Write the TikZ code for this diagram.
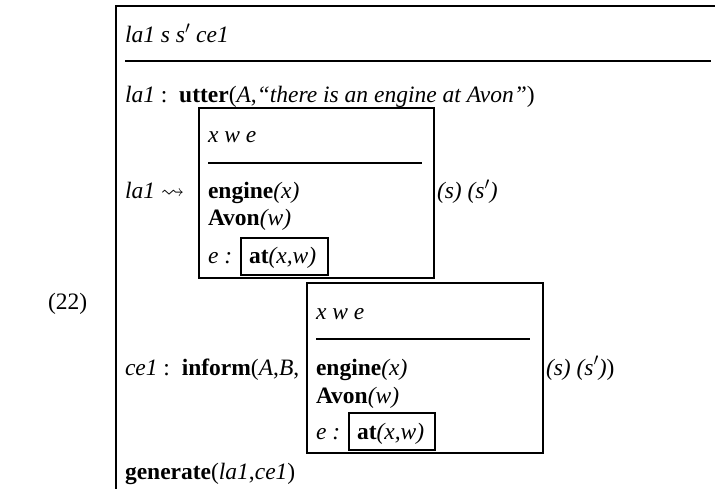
\documentclass[tikz,border=0pt]{standalone}
\usepackage{amssymb}
\usepackage{fontspec}
\setmainfont{Liberation Serif}
\begin{document}
\begin{tikzpicture}[x=1pt,y=-1pt,
  every node/.style={inner sep=0pt,outer sep=0pt,anchor=base west,font=\fontsize{23.5}{27}\selectfont},
  rule/.style={line width=1.8pt},
  frame/.style={draw,line width=1.6pt,rectangle,anchor=center}]
\useasboundingbox (0,0) rectangle (715,489);
% outer frame
\coordinate (otl) at (116,6);
\coordinate (otr) at (715,6);
\coordinate (obl) at (116,489);
\draw[line width=1.6pt] (otr) -- (otl) -- (obl);
\coordinate (hl) at (125,61);
\coordinate (hr) at (711,61);
\draw[rule] (hl) -- (hr);
\node (num) at (48,309) {(22)};
\node (head) at (125,43) {\itshape la1 s s$'$ ce1};
\node (utter) at (125,103) {\textit{la1} :\hspace{0.5em}\textbf{utter}(\textit{A},\textit{``there is an engine at Avon''})};
% box 1
\node[frame,minimum width=235pt,minimum height=170pt] (b1) at (316.5,193) {};
\coordinate (b1l) at (208,163);
\coordinate (b1r) at (422,163);
\draw[rule] (b1l) -- (b1r);
\node (b1v) at (208,143) {\itshape x w e};
\node (b1a) at (208,199) {\textbf{engine}\textit{(x)}};
\node (b1b) at (208,226) {\textbf{Avon}\textit{(w)}};
\node (b1c) at (208,263) {\textit{e :}};
\node[frame,minimum width=87pt,minimum height=37pt] (b1i) at (284.5,256.5) {};
\node (b1d) at (249,263) {\textbf{at}\textit{(x,w)}};
\node (la) at (125,199) {\textit{la1} $\leadsto$};
\node (s1) at (437,199) {\textit{(s) (s}$'$\textit{)}};
% box 2
\node[frame,minimum width=236pt,minimum height=170pt] (b2) at (425,368) {};
\coordinate (b2l) at (316,339);
\coordinate (b2r) at (530,339);
\draw[rule] (b2l) -- (b2r);
\node (b2v) at (316,319) {\itshape x w e};
\node (b2a) at (316,375) {\textbf{engine}\textit{(x)}};
\node (b2b) at (316,403) {\textbf{Avon}\textit{(w)}};
\node (b2c) at (316,439) {\textit{e :}};
\node[frame,minimum width=86pt,minimum height=37pt] (b2i) at (392,431.5) {};
\node (b2d) at (357,439) {\textbf{at}\textit{(x,w)}};
\node (ce) at (125,375) {\textit{ce1} :\hspace{0.5em}\textbf{inform}(\textit{A},\textit{B},};
\node (s2) at (546,375) {\textit{(s) (s}$'$\textit{)})};
\node (gen) at (125,479) {\textbf{generate}(\textit{la1},\textit{ce1})};
\end{tikzpicture}
\end{document}
